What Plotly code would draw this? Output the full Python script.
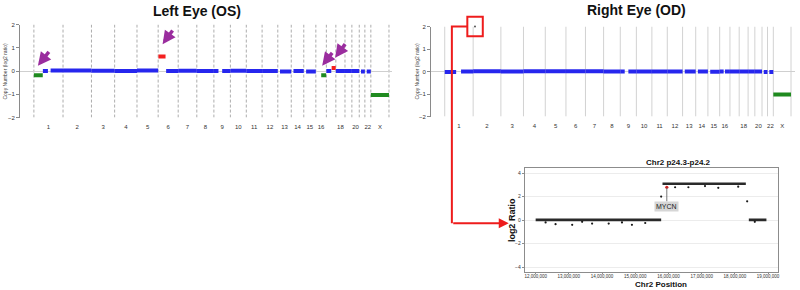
import plotly.graph_objects as go

W, H = 800, 290
def px(x): return x / W
def py(y): return 1 - y / H

# ---------------- data ----------------
chrom_names = ['1','2','3','4','5','6','7','8','9','10','11','12','13','14','15','16','17','18','19','20','21','22','X']
chrom_len = [249,243,198,191,181,171,159,146,141,136,135,134,115,107,103,90,81,78,59,63,48,51,155]  # Mb
tick_chroms = ['1','2','3','4','5','6','7','8','9','10','11','12','13','14','15','16','18','20','22','X']

# Left eye (OS) segments: chromosome, start Mb, end Mb, log2 ratio, call
left_chr   = ['1','1','1','2','3','4','5','6','6','7','8','9','9','10','11','12','13','14','15','16','17','17','18','19','20','21','22','X']
left_start = [0,77,143,0,0,0,0,2,68,0,0,0,71,0,0,0,19,19,20,46,0,45,0,0,0,15,16,0]
left_end   = [76,120,249,243,198,191,181,63,171,159,146,39,141,136,135,134,115,107,103,88,42,80,78,59,63,48,51,155]
left_val   = [-0.18,0.0,0.02,0.02,0.01,0.0,0.02,0.63,0.0,0.01,0.0,0.0,0.0,0.01,0.0,0.0,-0.02,0.0,-0.02,-0.18,0.0,0.13,0.0,0.0,0.0,-0.02,-0.02,-1.03]
left_call  = ['loss','normal','normal','normal','normal','normal','normal','gain','normal','normal','normal','normal','normal','normal','normal','normal','normal','normal','normal','loss','normal','gain','normal','normal','normal','normal','normal','loss']

# Right eye (OD) segments
right_chr   = ['1','1','2','3','4','5','6','7','8','9','9','10','11','12','13','14','15','16','16','17','18','19','20','21','22','X']
right_start = [0,143,0,0,0,0,0,0,0,0,71,0,0,0,19,19,20,0,46,0,0,0,0,15,16,0]
right_end   = [100,249,243,198,191,181,171,159,146,39,141,136,135,134,115,107,103,35,90,81,78,59,63,48,51,155]
right_val   = [-0.02,0.0,0.01,0.0,0.01,0.01,0.01,0.01,0.0,0.0,0.0,0.0,0.0,0.0,0.0,0.0,-0.01,0.0,0.0,0.0,0.0,0.0,0.0,-0.02,-0.02,-1.02]
right_call  = ['normal']*25 + ['loss']
right_amp_chr = ['2']
right_amp_pos = [16]
right_amp_val = [2.0]

# Inset: Chr2 p24.3-p24.2
inset_start = [12.0e6, 15.82e6, 18.42e6]
inset_end   = [15.78e6, 18.33e6, 18.95e6]
inset_val   = [0.02, 3.1, 0.02]
inset_out_x = [12.3e6, 12.6e6, 13.1e6, 13.4e6, 13.7e6, 14.2e6, 14.6e6, 14.9e6, 15.3e6, 15.78e6,
               16.2e6, 16.6e6, 17.1e6, 17.5e6, 18.1e6, 18.37e6, 18.6e6]
inset_out_y = [-0.2, -0.35, -0.4, -0.15, -0.3, -0.3, -0.2, -0.4, -0.25, 2.0,
               2.8, 2.8, 2.9, 2.75, 2.85, 1.6, -0.15]
mycn_pos = 15.95e6
mycn_val = 2.8
inset_ticks = [12e6, 13e6, 14e6, 15e6, 16e6, 17e6, 18e6, 19e6]
inset_tick_text = ['12,000,000','13,000,000','14,000,000','15,000,000','16,000,000','17,000,000','18,000,000','19,000,000']

# ---------------- helpers ----------------
offset = {}
acc = 0
for c, L in zip(chrom_names, chrom_len):
    offset[c] = acc
    acc += L
genome_end = acc
bounds = [offset[c] for c in chrom_names] + [genome_end]
mids = [offset[c] + chrom_len[chrom_names.index(c)] / 2 for c in tick_chroms]

colors = {'normal': '#2626ee', 'loss': '#1f8a1f', 'gain': '#f42020'}

fig = go.Figure()

def add_segments(chrs, starts, ends, vals, calls, xa, ya):
    for call in ['normal', 'loss', 'gain']:
        xs, ys = [], []
        for c, s, e, v, k in zip(chrs, starts, ends, vals, calls):
            if k != call:
                continue
            xs += [offset[c] + s, offset[c] + e, None]
            ys += [v, v, None]
        if xs:
            fig.add_trace(go.Scatter(x=xs, y=ys, mode='lines', xaxis=xa, yaxis=ya,
                                     line=dict(color=colors[call], width=4),
                                     hoverinfo='skip', showlegend=False))

add_segments(left_chr, left_start, left_end, left_val, left_call, 'x', 'y')
add_segments(right_chr, right_start, right_end, right_val, right_call, 'x2', 'y2')
fig.add_trace(go.Scatter(x=[offset[c] + p for c, p in zip(right_amp_chr, right_amp_pos)], y=right_amp_val,
                         mode='markers', xaxis='x2', yaxis='y2', cliponaxis=False,
                         marker=dict(color='#555', size=2), showlegend=False))

# inset
xs, ys = [], []
for s, e, v in zip(inset_start, inset_end, inset_val):
    xs += [s, e, None]; ys += [v, v, None]
fig.add_trace(go.Scatter(x=xs, y=ys, mode='lines', xaxis='x3', yaxis='y3',
                         line=dict(color='#2a2a2a', width=2.6), showlegend=False))
fig.add_trace(go.Scatter(x=inset_out_x, y=inset_out_y, mode='markers', xaxis='x3', yaxis='y3',
                         marker=dict(color='#1a1a1a', size=2.2), showlegend=False))
fig.add_trace(go.Scatter(x=[mycn_pos], y=[mycn_val], mode='markers', xaxis='x3', yaxis='y3',
                         marker=dict(color='#e02020', size=3.2), showlegend=False))

# ---------------- axes ----------------
main_y = dict(range=[-2, 2], tickvals=[-2, -1, 0, 1, 2], showline=True, linecolor='#8a8a8a', linewidth=1,
              ticks='outside', ticklen=3, tickcolor='#8a8a8a', tickfont=dict(size=6, color='#333'),
              showgrid=False, zeroline=True, zerolinecolor='#cfcfcf', zerolinewidth=1)
main_x = dict(showgrid=False, zeroline=False, showline=False, ticks='', tickvals=mids, ticktext=tick_chroms,
              tickfont=dict(size=6, color='#333'), ticklabelstandoff=4)

fig.update_layout(
    width=W, height=H, margin=dict(l=0, r=0, t=0, b=0),
    paper_bgcolor='white', plot_bgcolor='white',
    font=dict(family='Liberation Sans, Arial, sans-serif'),
    showlegend=False,
    xaxis=dict(main_x, domain=[px(20), px(393)], range=[-119, 3060], anchor='y'),
    yaxis=dict(main_y, domain=[py(117), py(22)], anchor='x'),
    xaxis2=dict(main_x, domain=[px(432), px(797)], range=[-121, 3069], anchor='y2'),
    yaxis2=dict(main_y, domain=[py(116), py(24)], anchor='x2'),
    xaxis3=dict(domain=[px(526), px(780)], range=[11.67e6, 19.3e6], anchor='y3',
                tickvals=inset_ticks, ticktext=inset_tick_text, tickfont=dict(size=4.5, color='#333'),
                showline=True, mirror=True, linecolor='#8c8c8c', linewidth=1, ticks='outside', ticklen=1,
                tickcolor='#8c8c8c', showgrid=False, zeroline=False, ticklabelstandoff=-2),
    yaxis3=dict(domain=[py(275), py(168)], range=[-4.45, 4.48], anchor='x3',
                tickvals=[-4, -2, 0, 2, 4], tickfont=dict(size=5, color='#333'),
                showline=True, mirror=True, linecolor='#8c8c8c', linewidth=1, ticks='outside', ticklen=2,
                tickcolor='#8c8c8c', showgrid=True, gridcolor='#ececec', zeroline=False),
)

# chromosome boundary lines
shapes = []
for b in bounds:
    shapes.append(dict(type='line', xref='x', yref='y', x0=b, x1=b, y0=-2, y1=2,
                       line=dict(color='#8a8a8a', width=0.7, dash='3px,2px'), layer='below'))
    shapes.append(dict(type='line', xref='x2', yref='y2', x0=b, x1=b, y0=-2, y1=2,
                       line=dict(color='#d2d2d2', width=1), layer='below'))
# red highlight box and connector
shapes.append(dict(type='rect', xref='paper', yref='paper', x0=px(468.5), x1=px(484), y0=py(34), y1=py(14),
                   line=dict(color='#ee1c1c', width=2)))
shapes.append(dict(type='path', xref='paper', yref='paper',
                   path=f'M {px(468.5)} {py(24)} L {px(453)} {py(24)} L {px(453)} {py(225)}',
                   line=dict(color='#ee1c1c', width=2)))

C = dict(xanchor='center', yanchor='middle', xref='paper', yref='paper')
ann = []
# purple arrows (head, tail in pixels): shaft as a line shape, head as an annotation arrow
for hx, hy, tx, ty in [(38, 64, 49, 50), (163, 42, 173, 28), (323, 64, 333, 51), (336, 56, 346, 42)]:
    shapes.append(dict(type='line', xref='paper', yref='paper',
                       x0=px(tx), y0=py(ty), x1=px(hx + (tx - hx) * 0.35), y1=py(hy + (ty - hy) * 0.35),
                       line=dict(color='#9a2d9e', width=3.5)))
    ann.append(dict(C, text='', x=px(hx), y=py(hy), showarrow=True,
                    ax=(tx - hx) * 0.5, ay=(ty - hy) * 0.5, arrowhead=2, arrowsize=0.75,
                    arrowwidth=3.5, arrowcolor='#9a2d9e'))
fig.update_layout(shapes=shapes)

ann.append(dict(C, text='<b>Left Eye (OS)</b>', x=px(197), y=py(8), showarrow=False,
                font=dict(size=14, color='#111')))
ann.append(dict(C, text='<b>Right Eye (OD)</b>', x=px(638), y=py(7), showarrow=False,
                font=dict(size=14, color='#111')))
for xx in [5, 418]:
    ann.append(dict(C, text='Copy Number (log2 ratio)', x=px(xx), y=py(70),
                    textangle=-90, showarrow=False, font=dict(size=5, color='#444')))
# red connector arrow
ann.append(dict(C, text='', x=px(510), y=py(225), showarrow=True,
                ax=-57, ay=0, arrowhead=2, arrowsize=1, arrowwidth=2, arrowcolor='#ee1c1c'))
# inset labels
ann.append(dict(C, text='<b>Chr2 p24.3-p24.2</b>', x=px(680), y=py(163), showarrow=False,
                font=dict(size=8, color='#111')))
ann.append(dict(C, text='<b>Chr2 Position</b>', x=px(663), y=py(287), showarrow=False,
                font=dict(size=8, color='#111')))
ann.append(dict(C, text='<b>log2 Ratio</b>', x=px(514), y=py(222),
                textangle=-90, showarrow=False, font=dict(size=9, color='#111')))
ann.append(dict(text='MYCN', x=mycn_pos, y=mycn_val, xref='x3', yref='y3', showarrow=True,
                xanchor='center', yanchor='middle',
                ax=0, ay=19, arrowhead=0, arrowwidth=0.8, arrowcolor='#555',
                bgcolor='#d6d6d6', font=dict(size=7, color='#222'), borderpad=1))
fig.update_layout(annotations=ann)

fig.write_html('out.html')
